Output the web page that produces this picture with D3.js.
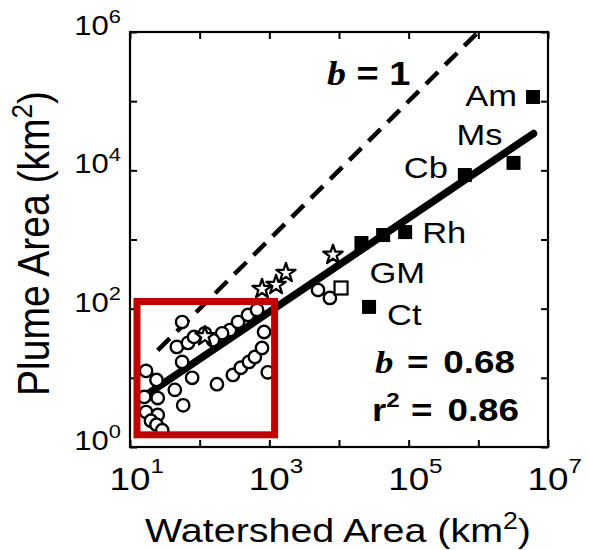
<!DOCTYPE html>
<html>
<head>
<meta charset="utf-8">
<script src="https://cdn.jsdelivr.net/npm/d3@7"></script>
<style>
  body { margin: 0; background: #fff; }
  svg { display: block; }
</style>
</head>
<body>
<svg id="chart" width="589" height="550"></svg>
<script>
// open circles (small watersheds)
const circleWatershed = [56, 47, 68, 83, 119, 56, 78, 44, 58, 17, 24, 25, 17, 25, 20, 24, 29, 16,
  177, 300, 390, 510, 620, 785, 840, 950, 272, 355, 494, 666, 210, 155, 5000, 7400];
const circlePlume = [64, 28, 32, 39, 44, 17, 10, 6.7, 4, 12.6, 9.3, 5.1, 3.2, 2.9, 2.4, 2.1, 1.75, 5.3,
  8.1, 11, 14, 17, 20, 27, 46, 12, 49, 64, 81, 96, 44, 35, 186, 143];

// open stars
const starWatershed = [8200, 1730, 785, 1250, 119];
const starPlume = [600, 328, 192, 220, 40];

// open squares
const openSquareWatershed = [10700];
const openSquarePlume = [199];

// named large rivers (filled squares)
const riverNames = ['Am', 'Ms', 'Cb', 'Rh', '', 'GM', 'Ct'];
const riverWatershed = [6.1e6, 3.2e6, 6.4e5, 8.9e4, 4.3e4, 2.1e4, 2.7e4];
const riverPlume = [1.15e5, 1.28e4, 8550, 1280, 1160, 890, 106];

// fits
const fitSlope = 0.68;
const fitIntercept = 0.818;
const fitRange = [15, 6.2e6];
const oneToOneRange = [25, 1e6];

// highlighted small-river box
const boxWatershed = [12.6, 1190];
const boxPlume = [1.5, 127];

const xTickExp = [1, 3, 5, 7];
const yTickExp = [0, 2, 4, 6];

const font = '"Liberation Sans", Arial, Helvetica, sans-serif';
const stretch = 1.15;
const margin = { left: 130, right: 41, top: 32, bottom: 103 };
const width = 589, height = 550;

const svg = d3.select('#chart');

const x = d3.scaleLog().domain([1e1, 1e7]).range([margin.left, width - margin.right]);
const y = d3.scaleLog().domain([1e0, 1e6]).range([height - margin.bottom, margin.top]);

// text in a horizontally stretched group
const addText = function(px, py, anchor, sx) {
  return svg
    .append('g')
    .attr('transform', `translate(${px},${py}) scale(${sx || stretch},1)`)
    .append('text')
    .attr('text-anchor', anchor)
    .attr('font-family', font)
    .attr('fill', '#000');
};

// ticks on all four sides, pointing inward
const decadesX = d3.range(1, 8).map(e => Math.pow(10, e));
const decadesY = d3.range(0, 7).map(e => Math.pow(10, e));
const tickStyle = g => {
  g.select('.domain').remove();
  g.selectAll('.tick line').attr('stroke', '#000').attr('stroke-width', 2);
};
svg.append('g')
  .attr('transform', `translate(0,${y.range()[0]})`)
  .call(d3.axisBottom(x).tickValues(decadesX).tickSize(-7).tickFormat(''))
  .call(tickStyle);
svg.append('g')
  .attr('transform', `translate(0,${y.range()[1]})`)
  .call(d3.axisTop(x).tickValues(decadesX).tickSize(-7).tickFormat(''))
  .call(tickStyle);
svg.append('g')
  .attr('transform', `translate(${x.range()[0]},0)`)
  .call(d3.axisLeft(y).tickValues(decadesY).tickSize(-7).tickFormat(''))
  .call(tickStyle);
svg.append('g')
  .attr('transform', `translate(${x.range()[1]},0)`)
  .call(d3.axisRight(y).tickValues(decadesY).tickSize(-7).tickFormat(''))
  .call(tickStyle);

svg.append('rect')
  .attr('x', x.range()[0])
  .attr('y', y.range()[1])
  .attr('width', x.range()[1] - x.range()[0])
  .attr('height', y.range()[0] - y.range()[1])
  .attr('fill', 'none')
  .attr('stroke', '#000')
  .attr('stroke-width', 2.2);

// tick labels, 10 with superscript exponent
xTickExp.forEach(e => {
  const t = addText(x(Math.pow(10, e)), 490, 'start');
  t.attr('font-size', 32).attr('x', -0.556 * 32);
  t.append('tspan').text('10');
  t.append('tspan').attr('font-size', 21).attr('dy', -17).text(e);
});
yTickExp.forEach(e => {
  const t = addText(121, y(Math.pow(10, e)) + 3, 'end');
  t.attr('font-size', 27);
  t.append('tspan').text('10');
  t.append('tspan').attr('font-size', 19).attr('dy', -12).text(e);
});

// axis titles
const xTitle = addText(338, 542, 'middle', 1.16).attr('font-size', 34);
xTitle.append('tspan').text('Watershed Area (km');
xTitle.append('tspan').attr('font-size', 23).attr('dy', -13).text('2');
xTitle.append('tspan').attr('dy', 13).text(')');

const yTitle = svg.append('g')
  .attr('transform', 'translate(49,243.5) scale(1.12,1) rotate(-90)')
  .append('text')
  .attr('text-anchor', 'middle')
  .attr('font-family', font)
  .attr('font-size', 39);
yTitle.append('tspan').text('Plume Area (km');
yTitle.append('tspan').attr('font-size', 26).attr('dy', -15).text('2');
yTitle.append('tspan').attr('dy', 15).text(')');

// 1:1 dashed line
const line = d3.line().x(d => x(d[0])).y(d => y(d[1]));
svg.append('path')
  .attr('d', line(oneToOneRange.map(v => [v, v])))
  .attr('fill', 'none')
  .attr('stroke', '#000')
  .attr('stroke-width', 4.5)
  .attr('stroke-dasharray', '17,10');

// power law fit
svg.append('path')
  .attr('d', line(fitRange.map(v => [v, fitIntercept * Math.pow(v, fitSlope)])))
  .attr('fill', 'none')
  .attr('stroke', '#000')
  .attr('stroke-width', 7.5)
  .attr('stroke-linecap', 'round');

// open circles
svg.append('g')
  .selectAll('circle')
  .data(circleWatershed.map((v, i) => [v, circlePlume[i]]))
  .join('circle')
  .attr('cx', d => x(d[0]))
  .attr('cy', d => y(d[1]))
  .attr('r', 6.2)
  .attr('fill', '#fff')
  .attr('stroke', '#000')
  .attr('stroke-width', 2.4);

// open stars
const star = d3.symbol().type(d3.symbolStar).size(115);
svg.append('g')
  .selectAll('path')
  .data(starWatershed.map((v, i) => [v, starPlume[i]]))
  .join('path')
  .attr('transform', d => `translate(${x(d[0])},${y(d[1])})`)
  .attr('d', star)
  .attr('fill', '#fff')
  .attr('stroke', '#000')
  .attr('stroke-width', 2.3)
  .attr('stroke-linejoin', 'round');

// open squares
svg.append('g')
  .selectAll('rect')
  .data(openSquareWatershed.map((v, i) => [v, openSquarePlume[i]]))
  .join('rect')
  .attr('x', d => x(d[0]) - 6.5)
  .attr('y', d => y(d[1]) - 6.5)
  .attr('width', 13)
  .attr('height', 13)
  .attr('fill', '#fff')
  .attr('stroke', '#000')
  .attr('stroke-width', 2.2);

// named rivers
const rivers = riverNames.map((n, i) => ({ name: n, w: riverWatershed[i], p: riverPlume[i] }));
svg.append('g')
  .selectAll('rect')
  .data(rivers)
  .join('rect')
  .attr('x', d => x(d.w) - 7)
  .attr('y', d => y(d.p) - 7)
  .attr('width', 14)
  .attr('height', 14)
  .attr('fill', '#000');

// label placement around each square
const labelPlace = {
  Am: { dx: -16, dy: 9, anchor: 'end' },
  Ms: { dx: -11, dy: -18, anchor: 'end' },
  Cb: { dx: -17, dy: 3, anchor: 'end' },
  Rh: { dx: 17, dy: 11, anchor: 'start' },
  GM: { dx: 8, dy: 40, anchor: 'start' },
  Ct: { dx: 18, dy: 18, anchor: 'start' }
};
rivers.filter(d => d.name).forEach(d => {
  const p = labelPlace[d.name];
  addText(x(d.w) + p.dx, y(d.p) + p.dy, p.anchor).attr('font-size', 30).text(d.name);
});

// highlight box
svg.append('rect')
  .attr('x', x(boxWatershed[0]))
  .attr('y', y(boxPlume[1]))
  .attr('width', x(boxWatershed[1]) - x(boxWatershed[0]))
  .attr('height', y(boxPlume[0]) - y(boxPlume[1]))
  .attr('fill', 'none')
  .attr('stroke', '#c00000')
  .attr('stroke-width', 7);

// annotations
const serifB = t => t.append('tspan')
  .attr('font-family', '"Liberation Serif", "Times New Roman", serif')
  .attr('font-style', 'italic')
  .text('b');

const b1 = addText(327, 85, 'start').attr('font-size', 33).attr('font-weight', 'bold');
serifB(b1);
b1.append('tspan').text(' = 1');

const bFit = addText(375, 373, 'start').attr('font-size', 32).attr('font-weight', 'bold');
serifB(bFit);
bFit.append('tspan').attr('dx', 3).text(' = ');
bFit.append('tspan').attr('dx', 4).text(fitSlope.toFixed(2));

const r2 = addText(372, 421, 'start').attr('font-size', 32).attr('font-weight', 'bold');
r2.append('tspan').text('r');
r2.append('tspan').attr('font-size', 21).attr('dy', -14).text('2');
r2.append('tspan').attr('dy', 14).attr('dx', 1).text(' = ');
r2.append('tspan').attr('dx', 4).text('0.86');
</script>
</body>
</html>
